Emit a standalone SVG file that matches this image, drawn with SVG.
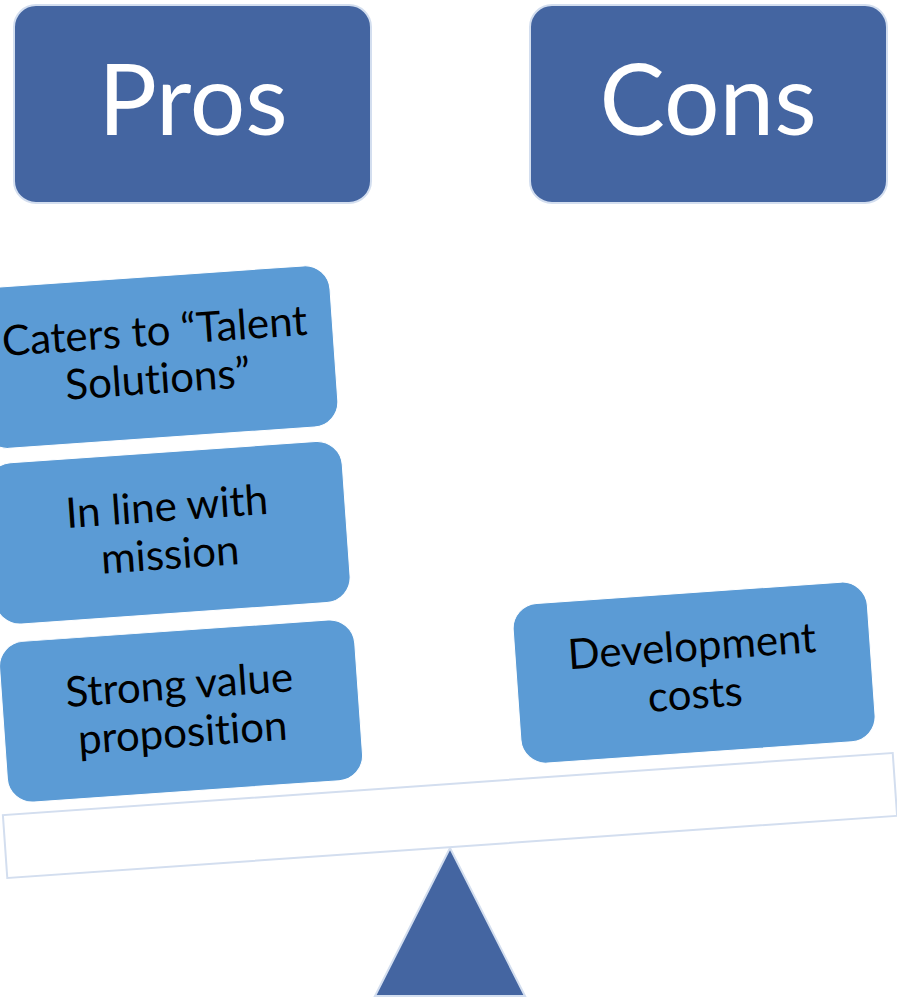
<svg xmlns="http://www.w3.org/2000/svg" width="897" height="1001" viewBox="0 0 897 1001">
  <style>
    text { font-variant-ligatures: none; font-feature-settings: "liga" 0, "clig" 0; }
    .head { fill: #4465A1; stroke: #D3DEEF; stroke-width: 2; }
    .head-text { font-family: Lato, "Open Sans", sans-serif; font-size: 98px; fill: #FFFFFF; text-anchor: middle; }
    .item { fill: #5B9BD5; stroke: #FFFFFF; stroke-width: 1; }
    .item-text { font-family: Lato, "Open Sans", sans-serif; font-size: 42px; fill: #000000; text-anchor: middle; }
    .beam { fill: #FFFFFF; stroke: #D3DEEF; stroke-width: 2; }
    .pivot { fill: #4465A1; stroke: #D3DEEF; stroke-width: 2; }
  </style>

  <!-- Column headings -->
  <g id="pros">
    <rect class="head" x="14" y="5" width="357" height="198" rx="22"/>
    <text class="head-text" x="193" y="135">Pros</text>
  </g>
  <g id="cons">
    <rect class="head" x="530" y="5" width="357" height="198" rx="22"/>
    <text class="head-text" x="708" y="135">Cons</text>
  </g>

  <!-- Fulcrum -->
  <g id="fulcrum">
    <polygon class="pivot" points="450,848 525,996 375,996"/>
  </g>

  <!-- Tilted beam and the weights resting on it -->
  <g transform="rotate(-4 450 815.5)">
    <g id="beam">
      <rect class="beam" x="4" y="784" width="892" height="63"/>
    </g>

    <g id="pro-talent">
      <rect class="item" x="11" y="257" width="356" height="161.5" rx="25"/>
      <text class="item-text" x="189" y="326">Caters to “Talent</text>
      <text class="item-text" x="189" y="374">Solutions”</text>
    </g>

    <g id="pro-mission">
      <rect class="item" x="11" y="433" width="356" height="161.5" rx="25"/>
      <text class="item-text" x="189" y="502">In line with</text>
      <text class="item-text" x="189" y="550">mission</text>
    </g>

    <g id="pro-value">
      <rect class="item" x="11" y="612" width="356" height="161" rx="25"/>
      <text class="item-text" x="189" y="680.5">Strong value</text>
      <text class="item-text" x="189" y="728.5">proposition</text>
    </g>

    <g id="con-costs">
      <rect class="item" x="526" y="610" width="355" height="160" rx="25"/>
      <text class="item-text" x="703" y="678">Development</text>
      <text class="item-text" x="703" y="726">costs</text>
    </g>
  </g>
</svg>
